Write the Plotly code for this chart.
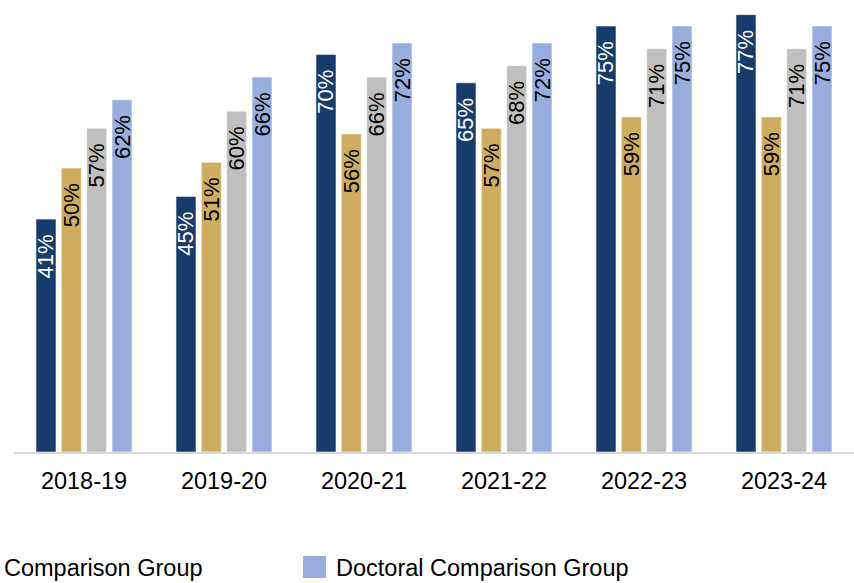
import plotly.graph_objects as go

# School years on the category axis
years = ["2018-19", "2019-20", "2020-21", "2021-22", "2022-23", "2023-24"]

# Percentages for each group, per year
institution = [41, 45, 70, 65, 75, 77]
peer_group = [50, 51, 56, 57, 59, 59]
comparison_group = [57, 60, 66, 68, 71, 71]
doctoral_group = [62, 66, 72, 72, 75, 75]

series_names = ["Institution", "Peer Group", "Comparison Group", "Doctoral Comparison Group"]
series_values = [institution, peer_group, comparison_group, doctoral_group]
series_colors = ["#173c6b", "#cfad5e", "#bfbfbf", "#98aedf"]
label_colors = ["#ffffff", "#000000", "#000000", "#000000"]

FONT = "Liberation Sans, Arial, sans-serif"
W, H = 854, 583
ML, MR, MT, MB = 14, 0, 0, 131
PX_PER_PCT = 5.68

fig = go.Figure()
for name, vals, col, lc in zip(series_names, series_values, series_colors, label_colors):
    fig.add_trace(go.Bar(
        x=years, y=vals, name=name,
        marker=dict(color=col, line=dict(color="rgba(255,255,255,0.55)", width=1)),
        text=[f"{v}%\u00a0\u00a0" for v in vals],
        textposition="inside",
        insidetextanchor="end",
        textangle=-90,
        constraintext="none",
        textfont=dict(family=FONT, size=22, color=lc),
        showlegend=False,
        hoverinfo="skip",
    ))

plot_w = W - ML - MR
plot_h = H - MT - MB


def px_x(px):
    return (px - ML) / plot_w


def px_y(py):
    return (H - MB - py) / plot_h


# Legend row along the bottom edge
legend_y = 568
fig.add_annotation(text=series_names[2], x=px_x(2), y=px_y(legend_y), xref="paper", yref="paper",
                   xanchor="left", yanchor="middle", showarrow=False,
                   font=dict(family=FONT, size=23.5, color="#000000"))
fig.add_shape(type="rect", xref="paper", yref="paper",
              x0=px_x(303), x1=px_x(326), y0=px_y(578), y1=px_y(556),
              fillcolor=series_colors[3], line=dict(width=0))
fig.add_annotation(text=series_names[3], x=px_x(334), y=px_y(legend_y), xref="paper", yref="paper",
                   xanchor="left", yanchor="middle", showarrow=False,
                   font=dict(family=FONT, size=23.5, color="#000000"))

fig.update_layout(
    width=W, height=H,
    margin=dict(l=ML, r=MR, t=MT, b=MB),
    paper_bgcolor="white", plot_bgcolor="white",
    barmode="group", bargap=0.276, bargroupgap=0.21,
    font=dict(family=FONT, color="#000000"),
)
fig.update_xaxes(showline=True, linecolor="#d9d9d9", linewidth=2, ticks="",
                 ticklabelstandoff=7,
                 tickfont=dict(family=FONT, size=23.5, color="#000000"), showgrid=False)
fig.update_yaxes(visible=False, range=[0, plot_h / PX_PER_PCT], showgrid=False, zeroline=False)

fig.write_html("out.html")
